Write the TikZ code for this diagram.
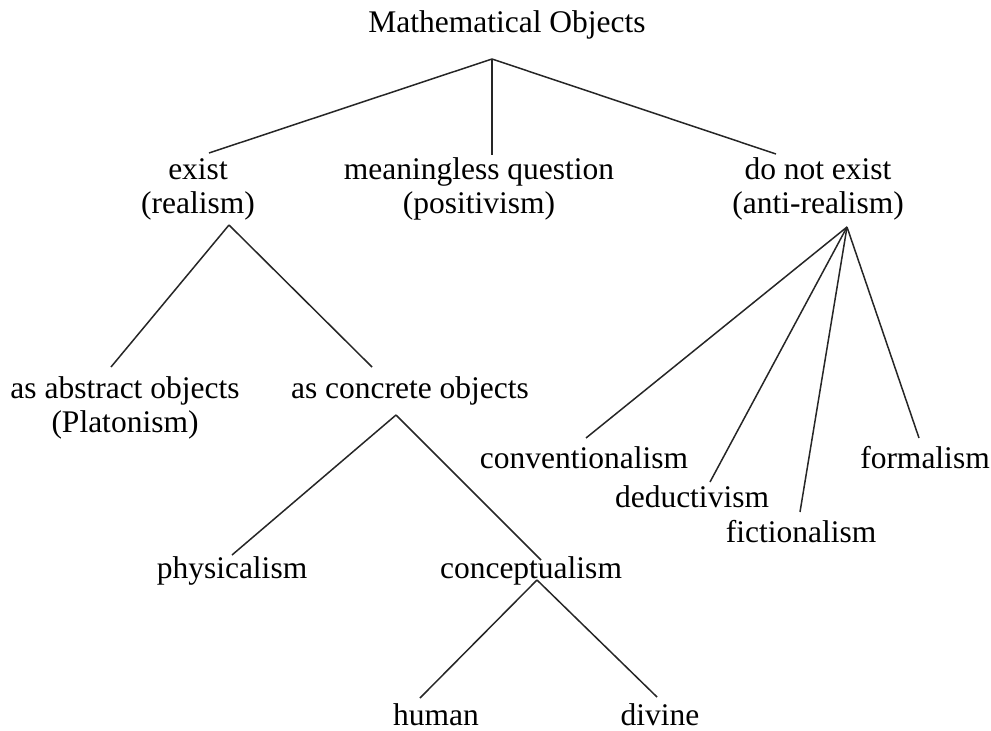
\documentclass[tikz,border=0pt]{standalone}
\usepackage{fontspec}
\setmainfont{Liberation Serif}
\begin{document}
\begin{tikzpicture}[x=1pt,y=-1pt,
  lbl/.style={font=\fontsize{31.5}{34}\selectfont, inner sep=0pt, anchor=base, align=center},
  edge/.style={draw=black!85, line width=1.5pt}]
\useasboundingbox (0,0) rectangle (991,731);
% text nodes (anchor base = baseline of the last line)
\node[lbl] (root) at (507,32) {Mathematical Objects};
\node[lbl] (exist) at (198,213) {exist\\(realism)};
\node[lbl] (mq) at (479,213) {meaningless question\\(positivism)};
\node[lbl] (dne) at (818,213) {do not exist\\(anti-realism)};
\node[lbl] (abs) at (125,432) {as abstract objects\\(Platonism)};
\node[lbl] (conc) at (410,398) {as concrete objects};
\node[lbl] (conv) at (584,468) {conventionalism};
\node[lbl] (ded) at (692,507) {deductivism};
\node[lbl] (fic) at (801,542) {fictionalism};
\node[lbl] (form) at (925,468) {formalism};
\node[lbl] (phys) at (232,578) {physicalism};
\node[lbl] (concept) at (531,578) {conceptualism};
\node[lbl] (human) at (436,725) {human};
\node[lbl] (divine) at (660,725) {divine};
% connector end points
\coordinate (rootB) at (492,59);
\coordinate (existT) at (209,153);
\coordinate (mqT) at (492,155);
\coordinate (dneT) at (776,154);
\coordinate (existB) at (229,225);
\coordinate (absT) at (111,367);
\coordinate (concT) at (372,367);
\coordinate (concB) at (396,415);
\coordinate (physT) at (232,555);
\coordinate (conceptT) at (541,560);
\coordinate (conceptB) at (537,580);
\coordinate (humanT) at (420,698);
\coordinate (divineT) at (657,697);
\coordinate (dneB) at (847,227);
\coordinate (convT) at (586,438);
\coordinate (dedT) at (710,482);
\coordinate (ficT) at (800,512);
\coordinate (formT) at (919,438);
% connectors
\draw[edge] (rootB) -- (existT);
\draw[edge] (rootB) -- (mqT);
\draw[edge] (rootB) -- (dneT);
\draw[edge] (existB) -- (absT);
\draw[edge] (existB) -- (concT);
\draw[edge] (concB) -- (physT);
\draw[edge] (concB) -- (conceptT);
\draw[edge] (conceptB) -- (humanT);
\draw[edge] (conceptB) -- (divineT);
\draw[edge] (dneB) -- (convT);
\draw[edge] (dneB) -- (dedT);
\draw[edge] (dneB) -- (ficT);
\draw[edge] (dneB) -- (formT);
\end{tikzpicture}
\end{document}
